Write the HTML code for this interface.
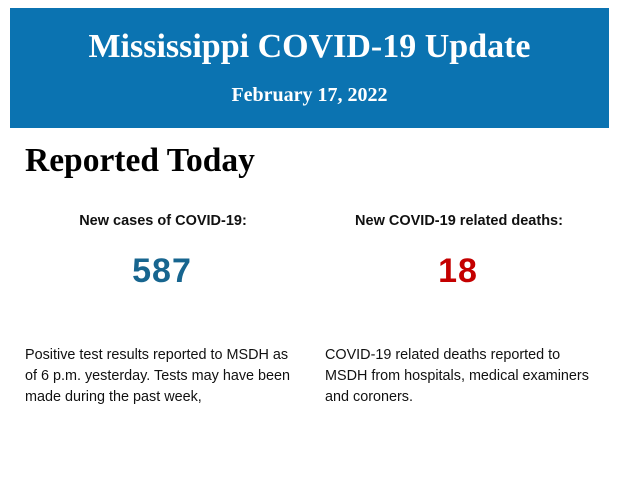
<!DOCTYPE html>
<html><head><style>
body{margin:0;width:620px;height:483px;background:#fff;position:relative;overflow:hidden;font-family:"Liberation Sans",sans-serif;}
.hdr{position:absolute;left:10px;top:8px;width:599px;height:120px;background:#0b73b1;color:#fff;font-family:"Liberation Serif",serif;font-weight:bold;text-align:center;}
.t1{position:absolute;left:0;right:0;top:20px;font-size:34px;line-height:38px;}
.t2{position:absolute;left:0;right:0;top:76px;font-size:20px;line-height:22px;}
.rt{position:absolute;left:25px;top:142px;font-family:"Liberation Serif",serif;font-weight:bold;font-size:33.5px;line-height:38px;color:#000;}
.lab{position:absolute;top:213px;width:300px;text-align:center;font-weight:bold;font-size:14.5px;color:#111;}
.num{position:absolute;top:253px;width:300px;text-align:center;font-weight:bold;font-size:34px;line-height:36px;letter-spacing:1px;font-family:"Liberation Sans",sans-serif;}
.p{position:absolute;top:345px;font-size:14.4px;line-height:21px;color:#111;}
</style></head><body>
<div class="hdr"><div class="t1">Mississippi COVID-19 Update</div><div class="t2">February 17, 2022</div></div>
<div class="rt">Reported Today</div>
<div class="lab" style="left:13px">New cases of COVID-19:</div>
<div class="lab" style="left:309px">New COVID-19 related deaths:</div>
<div class="num" style="left:12px;color:#17658f">587</div>
<div class="num" style="left:308px;color:#c40000">18</div>
<div class="p" style="left:25px;width:275px">Positive test results reported to MSDH as of 6 p.m. yesterday. Tests may have been made during the past week,</div>
<div class="p" style="left:325px;width:272px">COVID-19 related deaths reported to MSDH from hospitals, medical examiners and coroners.</div>
</body></html>
